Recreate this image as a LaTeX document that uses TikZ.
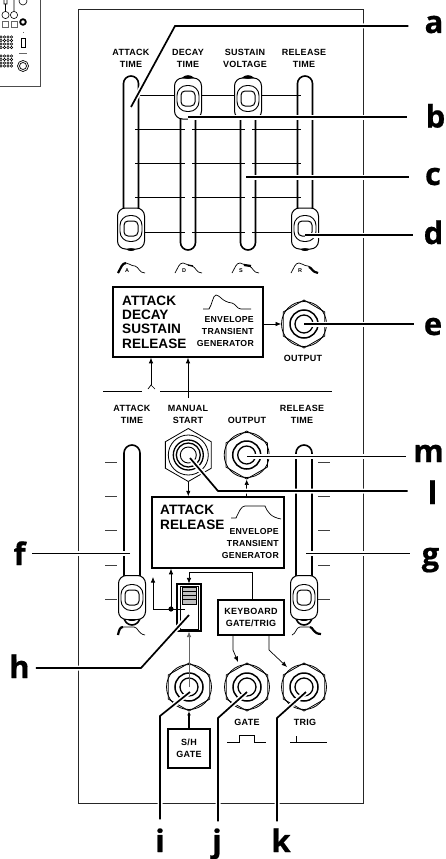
\documentclass[tikz,border=0pt]{standalone}
\usepackage{fontspec}
\newfontfamily\panelfont[LetterSpace=3.0]{Liberation Sans}
\newfontfamily\headfont{Liberation Sans}
\newfontfamily\letterfont[BoldFeatures={FakeBold=0.6}]{Open Sans}
\usetikzlibrary{arrows.meta, positioning, shapes.geometric, calc}
\tikzset{
  panelline/.style={line width=0.9pt, black!85},
  ctltext/.style={font=\panelfont\bfseries\fontsize{9}{12.2}\selectfont, align=center, inner sep=0pt},
  gentext/.style={font=\panelfont\bfseries\fontsize{8.7}{12}\selectfont, align=right, inner sep=0pt, anchor=east},
  headtext/.style={font=\headfont\bfseries\fontsize{13.6}{14.4}\selectfont, align=left, inner sep=0pt, anchor=west},
  letter/.style={font=\letterfont\bfseries\fontsize{31}{32}\selectfont, inner sep=0pt, anchor=base},
  modbox/.style={draw, line width=1.5pt, fill=white, inner sep=0pt},
  track/.style={draw, line width=1.6pt, rounded corners=7.5pt, minimum width=15pt, inner sep=0pt},
  knobbody/.style={draw, line width=1pt, fill=white, rounded corners=8pt, minimum width=27pt, inner sep=0pt},
  knobring/.style={draw, line width=0.9pt, rounded corners=10pt, minimum width=22pt, minimum height=26pt, inner sep=0pt},
  knobcap/.style={draw, line width=1pt, rounded corners=4pt, minimum width=14pt, minimum height=15pt, inner sep=0pt},
  nut/.style={draw, line width=0.8pt, fill=white, regular polygon, regular polygon sides=6, shape border rotate=30, minimum size=48pt, inner sep=0pt},
  ring/.style={draw, circle, inner sep=0pt},
  signal/.style={line width=0.7pt, -{Latex[length=5.5pt,width=4.5pt]}},
  leader/.style={line width=1.7pt, preaction={draw=white, line width=5pt}},
  curve/.style={line width=0.7pt},
}
% one slider knob
\newcommand{\slideknob}[3]{
  \node[knobbody, minimum height=#3] (#1) at (#2) {};
  \node[knobring] (#1ring) at (#1) {};
  \node[knobcap] (#1cap) at (#1) {};
}
% one jack with its nut
\newcommand{\jacknut}[2]{
  \node[ring, line width=0.8pt, minimum size=45pt, fill=white] (#1outer) at (#2) {};
  \node[nut, fill=none] (#1) at (#2) {};
  \node[ring, line width=1.5pt, minimum size=28pt] (#1mid) at (#1) {};
  \node[ring, line width=1.3pt, minimum size=18pt] (#1inner) at (#1) {};
}
\begin{document}
\begin{tikzpicture}[x=1pt, y=-1pt]
  \useasboundingbox (0,0) rectangle (445,859);

  % Small panel overview
  \begin{scope}
    \clip (0,0) rectangle (445,859);
    \draw[line width=0.9pt, black!70] (40,0) -- (40,86) -- (0,86);
    \draw[line width=0.6pt] (4,-1) rectangle (7,4) (23,1) circle (4);
    \draw[line width=0.6pt] (5.5,15) circle (3.6) (14,15) circle (3.6) (5.5,4) -- (5.5,11.4) (14,0) -- (14,11.4);
    \draw[line width=0.4pt, black!60] (2,21) rectangle (8,27) (11,21) rectangle (17,27);
    \draw[line width=1.8pt] (23,22) circle (2.8);
    \draw[line width=0.8pt] (21,38) rectangle (25,47);
    \draw[line width=0.3pt, black!60] (19,53) -- (27,53) (23,32) -- (23,33);
    \draw[line width=0.7pt] (23,66) circle (5.5) (23,66) circle (3.5);
    \foreach \dotx in {1,4.5,8,11.5}
      \foreach \doty in {37,40.5,44,47.5,56,59.5,63,66}
        \draw[line width=0.5pt] (\dotx,\doty) circle (1.3);
  \end{scope}

  % Panel outline
  \draw[panelline] (78,9) rectangle (363,803);

  % Upper row of faders
  \foreach \ypos in {129,163,197,232} \draw[line width=0.7pt] (135,\ypos) -- (301,\ypos);
  \draw[line width=0.7pt] (139,95) -- (301,95);
  \foreach \xpos/\name in {131/A,188/D,248/S,305/R} {
    \node[fill=white, minimum width=7pt, minimum height=130pt, inner sep=0pt] (stripe\name) at (\xpos,185) {};
    \node[track, minimum height=174pt] (track\name) at (\xpos,163) {};
  }
  \slideknob{knobD}{188,98.5}{41pt}
  \slideknob{knobS}{248,98.5}{41pt}
  \slideknob{knobA}{131,228.5}{41pt}
  \slideknob{knobR}{305,228.5}{41pt}
  \foreach \name in {knobD,knobS} \fill (\name.north) ellipse (4 and 1.3);
  \foreach \name in {knobA,knobR} \fill (\name.south) ellipse (4 and 1.3);

  \node[ctltext] (lblA) at (131,58.5) {ATTACK\\TIME};
  \node[ctltext] (lblD) at (188,58.5) {DECAY\\TIME};
  \node[ctltext] (lblS) at (245,58.5) {SUSTAIN\\VOLTAGE};
  \node[ctltext] (lblR) at (304,58.5) {RELEASE\\TIME};

  % Envelope icons
  \foreach \xpos/\name in {131/A,188/D,245/S,304/R} {
    \draw[line width=0.7pt] (\xpos-13,273) .. controls (\xpos-10,268) and (\xpos-9,263) .. (\xpos-5,263)
      .. controls (\xpos-2,263) and (\xpos,266) .. (\xpos+4,266) .. controls (\xpos+8,267) and (\xpos+8,273) .. (\xpos+14,273);
    \node[font=\headfont\bfseries\fontsize{5.5}{5.5}\selectfont, inner sep=0pt] (icon\name) at (\xpos-4,271) {\name};
  }
  \draw[line width=2.2pt] (118,273) .. controls (121,268) and (122,263) .. (126,263);
  \draw[line width=1.3pt] (188,265) -- (193,266);
  \draw[line width=2.2pt] (244,265) -- (251,266);
  \draw[line width=2.2pt] (309,267) .. controls (312,268) and (312,272) .. (318,273);

  % ADSR generator
  \node[modbox, minimum width=150pt, minimum height=70pt] (adsr) at (188,322) {};
  \node[headtext] (adsrtext) at (122,322) {ATTACK\\DECAY\\SUSTAIN\\RELEASE};
  \node[gentext] (adsrgen) at (254,332) {ENVELOPE\\TRANSIENT\\GENERATOR};
  \draw[curve] (203,309) -- (209,309) .. controls (212,305) and (213,295) .. (216,295)
    .. controls (220,295) and (222,302) .. (232,303) .. controls (236,304) and (237,309) .. (241,309) -- (251,309);

  \jacknut{jackE}{304,324}
  \node[ctltext] (lblE) at (303,358) {OUTPUT};
  \draw[signal] (adsr.east |- jackE) -- (jackEouter.west);

  % Divider and its branch
  \coordinate (divL) at (103,391);
  \coordinate (divG1) at (142,391);
  \coordinate (divG2) at (160,391);
  \coordinate (divR) at (332,391);
  \draw[line width=0.8pt] (divL) -- (divG1) (divG2) -- (divR);
  \coordinate (forkY) at (151,385);
  \coordinate (forkL) at (148,389);
  \coordinate (forkR) at (155,389);
  \draw[line width=0.7pt] (forkL) -- (forkY) -- (forkR);
  \draw[signal] (forkY) -- (forkY |- adsr.south);

  % Lower row of faders
  \foreach \ypos in {462,496,530,565,599} {
    \draw[line width=0.7pt, black!75] (105,\ypos) -- (117,\ypos);
    \draw[line width=0.7pt, black!75] (318,\ypos) -- (330,\ypos);
  }
  \node[track, minimum width=16pt, minimum height=180pt, rounded corners=8pt] (trackF) at (132,535) {};
  \node[track, minimum width=16pt, minimum height=180pt, rounded corners=8pt] (trackG) at (304,535) {};
  \slideknob{knobF}{132,597.5}{44pt}
  \slideknob{knobG}{304,597.5}{44pt}
  \foreach \name in {knobF,knobG} \fill (\name.south) ellipse (4 and 1);
  \node[ctltext] (lblF) at (132,414.5) {ATTACK\\TIME};
  \node[ctltext] (lblMan) at (188,414.5) {MANUAL\\START};
  \node[ctltext] (lblOut) at (247,420) {OUTPUT};
  \node[ctltext] (lblG) at (302,414.5) {RELEASE\\TIME};

  \draw[line width=2.2pt] (118,635) .. controls (119,630) and (120,627) .. (123,627);
  \draw[line width=0.7pt] (123,627) -- (134,627) .. controls (138,627) and (138,634) .. (145,635);
  \draw[line width=0.7pt] (292,635) .. controls (296,634) and (296,627) .. (300,627) -- (310,627);
  \draw[line width=2.2pt] (310,627) .. controls (313,627) and (313,634) .. (321,634);

  % AR generator
  \node[modbox, minimum width=132pt, minimum height=71pt] (argen) at (218,532.5) {};
  \node[headtext] (artext) at (160,517.5) {ATTACK\\RELEASE};
  \node[gentext] (argentext) at (279,543) {ENVELOPE\\TRANSIENT\\GENERATOR};
  \draw[curve] (231,518) -- (236,518) .. controls (239,512) and (241,506) .. (245,506) -- (265,506)
    .. controls (268,513) and (271,517) .. (281,519);

  \node[nut, minimum size=53pt] (jackMan) at (188.3,455) {};
  \node[ring, line width=0.8pt, minimum size=40pt] (jackMana) at (jackMan) {};
  \node[ring, line width=1.3pt, minimum size=30pt] (jackManb) at (jackMan) {};
  \node[ring, line width=1.3pt, minimum size=24pt] (jackManc) at (jackMan) {};
  \node[ring, line width=0.9pt, minimum size=16pt] (jackMand) at (jackMan) {};
  \jacknut{jackOut}{246.7,455}
  \draw[signal] (jackMan.south) -- (jackMan.south |- argen.north);
  \draw[signal] (jackOut.south |- argen.north) -- (jackOut.south);

  % Manual start line up to the ADSR generator
  \coordinate (manTop) at (188,398);
  \draw[signal] (manTop) -- (manTop |- adsr.south);

  % Gate switch
  \node[draw, line width=1.1pt, fill=white, minimum width=24pt, minimum height=47pt, inner sep=0pt] (switch) at (189,607.5) {};
  \node[draw, line width=0.6pt, minimum width=18pt, minimum height=43pt, inner sep=0pt] (switchin) at (switch) {};
  \node[draw, line width=0.6pt, fill=black!25, minimum width=14pt, minimum height=17pt, inner sep=0pt] (lever) at (189,595.5) {};
  \foreach \ypos in {591,595,599} \draw[line width=0.8pt] (182,\ypos) -- (196,\ypos);

  % Keyboard box and its routing
  \node[modbox, minimum width=66pt, minimum height=35pt, font=\panelfont\bfseries\fontsize{9}{12}\selectfont, align=center] (kbd) at (251,617.5) {KEYBOARD\\GATE/TRIG};
  \coordinate (kbdUp) at (252,572);
  \draw[signal] (kbd.north -| kbdUp) -- (kbdUp) -| (switch.north);
  \coordinate (joinDot) at (171,609);
  \coordinate (joinL) at (153,609);
  \coordinate (switchIn) at (185,609);
  \draw[line width=0.7pt] (switchIn) -- (joinL);
  \fill (joinDot) circle (2.6);
  \draw[signal] (joinL) -- (153,577);
  \draw[signal] (joinDot) -- (joinDot |- argen.south);

  % Lower jacks
  \jacknut{jackI}{189,687}
  \jacknut{jackJ}{247,687}
  \jacknut{jackK}{304,687}
  \draw[signal, black!60] (jackI.center) -- (switch.south);
  \coordinate (kbdJ) at (233,650);
  \coordinate (kbdK) at (269,650);
  \draw[signal] (kbdJ |- kbd.south) -- (kbdJ) -- (238,662);
  \draw[signal] (kbdK |- kbd.south) -- (kbdK) -- (287,667);

  \node[modbox, line width=1.8pt, minimum width=42pt, minimum height=39pt, font=\panelfont\bfseries\fontsize{9}{12}\selectfont, align=center] (shgate) at (189,748.5) {S/H\\GATE};
  \draw[line width=1.2pt, -{Latex[length=4pt,width=4pt]}] (shgate.north) -- (jackI.south);

  \node[ctltext] (lblGate) at (247,722) {GATE};
  \node[ctltext] (lblTrig) at (305,722) {TRIG};
  \draw[line width=0.7pt] (227,742) -- (239,742) -- (239,735) -- (254,735) -- (254,742) -- (266,742);
  \draw[line width=0.7pt] (290,742) -- (327,742) (296,742) -- (296,736);

  % Letters
  \node[letter] (la) at (434,33) {a};
  \node[letter] (lb) at (435.5,127.5) {b};
  \node[letter] (lc) at (433,185) {c};
  \node[letter] (ld) at (433.5,244) {d};
  \node[letter] (le) at (433,335) {e};
  \node[letter, anchor=base east] (lm) at (444,462) {m};
  \node[letter] (ll) at (432.5,504) {l};
  \node[letter] (lg) at (430.5,565) {g};
  \node[letter] (lf) at (19.5,565) {f};
  \node[letter] (lh) at (19.5,678) {h};
  \node[letter] (li) at (160,852) {i};
  \node[letter] (lj) at (217,852) {j};
  \node[letter] (lk) at (281,852) {k};

  % Leader lines
  \coordinate (benda) at (175,26);
  \coordinate (bendl) at (218,491);
  \coordinate (bendh) at (141,668);
  \coordinate (bendi) at (160,716);
  \coordinate (bendj) at (218,718);
  \coordinate (bendk) at (277,718);
  \coordinate (tipa) at (131,107);
  \coordinate (tipb) at (188,117);
  \coordinate (tipc) at (246,177);
  \coordinate (tipd) at (305,235);
  \coordinate (tipe) at (304,324);
  \coordinate (tipm) at (247,456.5);
  \coordinate (tipl) at (190,458);
  \coordinate (tipf) at (130,553.5);
  \coordinate (tipg) at (306,553.5);
  \coordinate (tiph) at (189,615);
  \coordinate (tipi) at (190,692);
  \coordinate (tipj) at (247,692);
  \coordinate (tipk) at (306,692);
  \draw[leader, shorten >=16pt] (tipa) -- (benda) -- (la.west |- benda);
  \draw[leader, shorten >=18pt] (tipb) -- (lb.west |- tipb);
  \draw[leader, shorten >=16pt] (tipc) -- (lc.west |- tipc);
  \draw[leader, shorten >=10pt] (tipd) -- (ld.west |- tipd);
  \draw[leader, shorten >=10pt] (tipe) -- (le.west |- tipe);
  \draw[leader, shorten >=7pt] (tipm) -- (lm.west |- tipm);
  \draw[leader, shorten >=20pt] (tipl) -- (bendl) -- (ll.west |- bendl);
  \draw[leader, shorten >=12pt] (tipg) -- (lg.west |- tipg);
  \draw[leader, shorten >=6pt] (tipf) -- (lf.east |- tipf);
  \draw[leader, shorten >=6pt] (tiph) -- (bendh) -- (lh.east |- bendh);
  \draw[leader, shorten >=9pt] (tipi) -- (bendi) -- (bendi |- li.north);
  \draw[leader, shorten >=7pt] (tipj) -- (bendj) -- (bendj |- lj.north);
  \draw[leader, shorten >=7pt] (tipk) -- (bendk) -- (bendk |- lk.north);
\end{tikzpicture}
\end{document}
